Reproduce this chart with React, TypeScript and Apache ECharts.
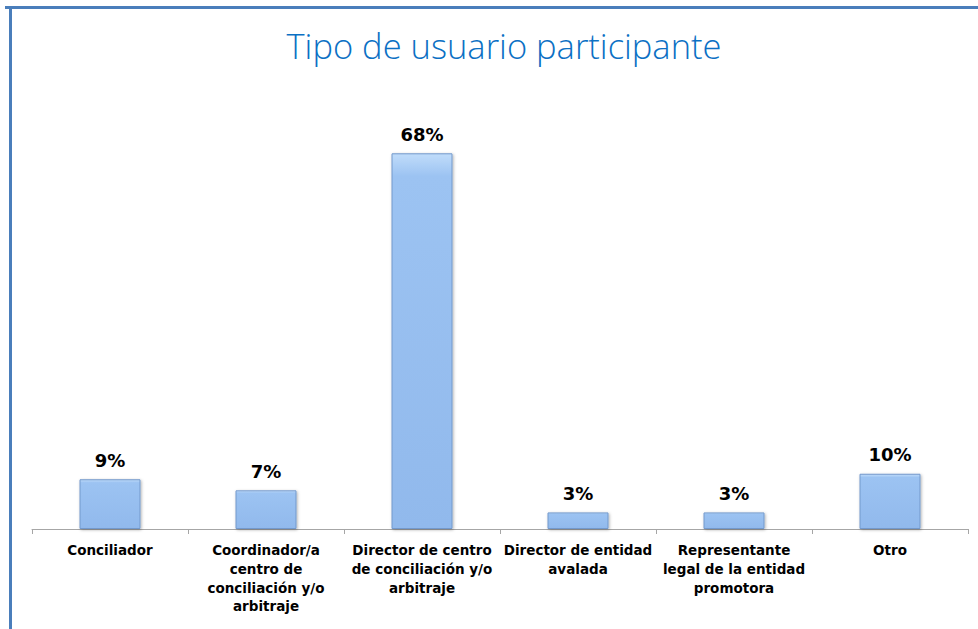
import React, { useEffect, useRef } from "react";
import * as echarts from "echarts";

const categories = [
  "Conciliador",
  "Coordinador/a\ncentro de\nconciliación y/o\narbitraje",
  "Director de centro\nde conciliación y/o\narbitraje",
  "Director de entidad\navalada",
  "Representante\nlegal de la entidad\npromotora",
  "Otro",
];
const values = [9, 7, 68, 3, 3, 10];
const titleText = "Tipo de usuario participante";

export default function App() {
  const ref = useRef<HTMLDivElement>(null);
  useEffect(() => {
    const chart = echarts.init(ref.current!, null, { renderer: "svg" });
    chart.setOption({
      animation: false,
      backgroundColor: "#ffffff",
      title: {
        text: titleText,
        left: 499,
        textAlign: "center",
        top: 23,
        textStyle: {
          fontFamily: "'Open Sans', sans-serif",
          fontWeight: 300,
          fontSize: 34.5,
          color: "#0B70C4",
        },
      },
      graphic: [
        { type: "rect", shape: { x: 5, y: 6, width: 973, height: 3 }, style: { fill: "#4A7EBB" } },
        { type: "rect", shape: { x: 9, y: 6, width: 3, height: 623 }, style: { fill: "#4A7EBB" } },
      ],
      grid: { left: 32, right: 10, top: 87, bottom: 100 },
      xAxis: {
        type: "category",
        data: categories,
        boundaryGap: true,
        axisLine: { lineStyle: { color: "#A6A6A6", width: 1 } },
        axisTick: { show: true, alignWithLabel: false, length: 5, lineStyle: { color: "#A6A6A6" } },
        axisLabel: {
          interval: 0,
          margin: 12,
          color: "#000000",
          fontFamily: "'DejaVu Sans', sans-serif",
          fontWeight: "bold",
          fontSize: 13.5,
          lineHeight: 18.7,
        },
      },
      yAxis: {
        type: "value",
        min: 0,
        max: 80,
        show: false,
        splitLine: { show: false },
      },
      series: [
        {
          type: "bar",
          data: values,
          barWidth: 61,
          itemStyle: {
            color: new echarts.graphic.LinearGradient(0, 0, 0, 1, [
              { offset: 0, color: "#C0DCFA" },
              { offset: 0.06, color: "#9CC3F2" },
              { offset: 1, color: "#91B9EC" },
            ]),
            borderColor: "#7399CC",
            borderWidth: 1,
            shadowColor: "rgba(0,0,0,0.3)",
            shadowBlur: 3,
            shadowOffsetX: 1,
            shadowOffsetY: 1,
          },
          label: {
            show: true,
            position: "top",
            distance: 10,
            formatter: "{c}%",
            color: "#000000",
            fontFamily: "'DejaVu Sans', sans-serif",
            fontWeight: "bold",
            fontSize: 18,
          },
        },
      ],
    });
    return () => chart.dispose();
  }, []);
  return (
    <div
      ref={ref}
      style={{ position: "fixed", left: 0, top: 0, width: 978, height: 629 }}
    />
  );
}
